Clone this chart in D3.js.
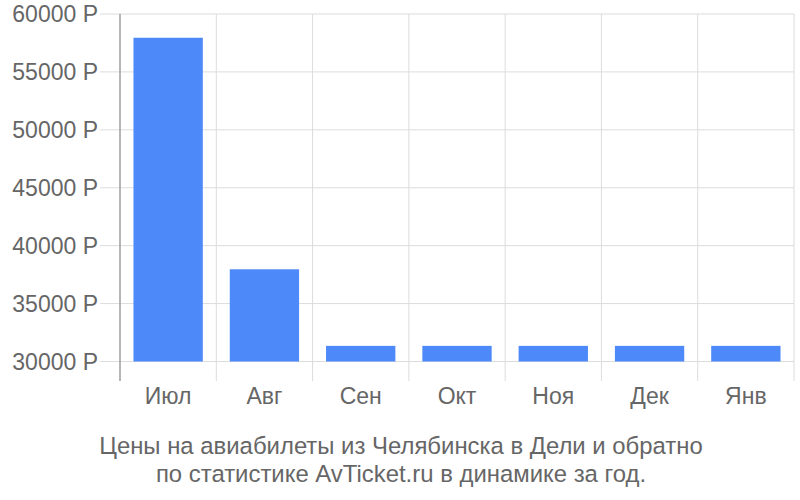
<!DOCTYPE html>
<html><head><meta charset="utf-8">
<script src="https://cdn.jsdelivr.net/npm/d3@7"></script>
<style>body{margin:0;background:#fff}text{font-family:"Liberation Sans",Arial,sans-serif}</style>
</head><body><svg id="c" width="800" height="500"></svg>
<script>
const categories = ["Июл","Авг","Сен","Окт","Ноя","Дек","Янв"];
const prices = [57950, 37960, 31350, 31350, 31350, 31350, 31350];
const yTicks = [30000,35000,40000,45000,50000,55000,60000];
const titleLines = ["Цены на авиабилеты из Челябинска в Дели и обратно","по статистике AvTicket.ru в динамике за год."];

const svg = d3.select("#c");
const x = d3.scaleBand().domain(categories).range([120,794]).paddingInner(0.28).paddingOuter(0.14);
const xg = d3.scaleBand().domain(categories).range([120,794]);
const y = d3.scaleLinear().domain([30000,60000]).range([361.5,14]);

// horizontal grid
svg.append("g").selectAll("line").data(yTicks).join("line")
  .attr("x1",100).attr("x2",794).attr("y1",d=>y(d)).attr("y2",d=>y(d))
  .attr("stroke","#dcdcdc").attr("stroke-width",1);
// vertical grid
svg.append("g").selectAll("line").data(categories).join("line")
  .attr("x1",d=>xg(d)+xg.step()).attr("x2",d=>xg(d)+xg.step())
  .attr("y1",14).attr("y2",381).attr("stroke","#dcdcdc").attr("stroke-width",1);

// bars
svg.append("g").selectAll("rect").data(prices).join("rect")
  .attr("x",(d,i)=>x(categories[i])).attr("width",x.bandwidth())
  .attr("y",d=>y(d)).attr("height",d=>y(30000)-y(d))
  .attr("fill","#4e89f9");

// y axis line
svg.append("line").attr("x1",120).attr("x2",120).attr("y1",14).attr("y2",381)
  .attr("stroke","#9e9e9e").attr("stroke-width",1.5);

// y labels
svg.append("g").selectAll("text").data(yTicks).join("text")
  .attr("x",98).attr("y",d=>y(d)).attr("dy","0.35em").attr("text-anchor","end")
  .attr("font-size",23).attr("fill","#666").text(d=>d+" Р");

// x labels
svg.append("g").selectAll("text").data(categories).join("text")
  .attr("x",d=>xg(d)+xg.bandwidth()/2).attr("y",404).attr("text-anchor","middle")
  .attr("font-size",23).attr("fill","#666").text(d=>d);

// title
svg.append("g").selectAll("text").data(titleLines).join("text")
  .attr("x",401).attr("y",(d,i)=>454+i*28).attr("text-anchor","middle")
  .attr("font-size",23.9).attr("fill","#666").text(d=>d);
</script></body></html>
